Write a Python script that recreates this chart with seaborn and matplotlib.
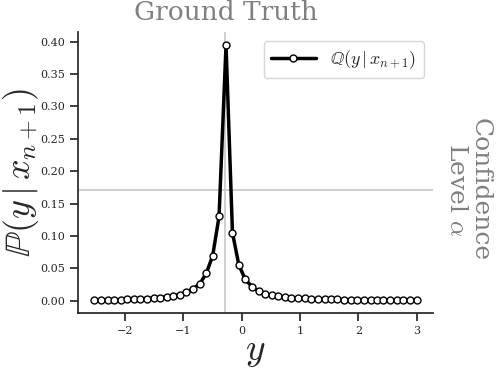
import numpy as np
import pandas as pd
import matplotlib
matplotlib.use("Agg")
import matplotlib.pyplot as plt
import matplotlib.transforms as mtransforms
import seaborn as sns

# grid of candidate y values and the predictive probabilities
y_grid = [-2.53, -2.42, -2.30, -2.19, -2.08, -1.97, -1.85, -1.74, -1.63, -1.51,
          -1.40, -1.29, -1.18, -1.06, -0.95, -0.84, -0.72, -0.61, -0.50, -0.39,
          -0.27, -0.16, -0.05, 0.06, 0.18, 0.29, 0.40, 0.51, 0.63, 0.74,
          0.85, 0.97, 1.08, 1.19, 1.30, 1.42, 1.53, 1.64, 1.75, 1.87,
          1.98, 2.09, 2.21, 2.32, 2.43, 2.54, 2.66, 2.77, 2.88, 3.00]
prob = [0.0007, 0.0008, 0.0010, 0.0012, 0.0015, 0.0018, 0.0022, 0.0027, 0.0033, 0.0040,
        0.0048, 0.0060, 0.0075, 0.0095, 0.0130, 0.0180, 0.0260, 0.0420, 0.0690, 0.1300,
        0.3950, 0.1050, 0.0550, 0.0330, 0.0210, 0.0145, 0.0105, 0.0082, 0.0066, 0.0055,
        0.0046, 0.0039, 0.0034, 0.0030, 0.0026, 0.0023, 0.0020, 0.0018, 0.0016, 0.0014,
        0.0013, 0.0012, 0.0011, 0.0010, 0.0009, 0.0008, 0.0008, 0.0007, 0.0007, 0.0006]

ground_truth = -0.28
confidence_level = 0.171

df = pd.DataFrame({"y": y_grid, "p": prob})

sns.set_theme(style="ticks")
plt.rcParams["font.family"] = ["DejaVu Serif"]
plt.rcParams["mathtext.fontset"] = "cm"

fig = plt.figure(figsize=(4.98, 3.74), dpi=100)
ax = fig.add_axes([0.157, 0.163, 0.712, 0.751])

ax.axvline(ground_truth, color="#cccccc", lw=1.3, zorder=1)
ax.axhline(confidence_level, color="#cccccc", lw=1.3, zorder=1)

sns.lineplot(data=df, x="y", y="p", ax=ax, color="black", linewidth=2.5,
             marker="o", markersize=5, markerfacecolor="white",
             markeredgecolor="black", markeredgewidth=1.0,
             label=r"$\mathbb{Q}(y\,|\,x_{n+1})$", zorder=3)

sns.despine(ax=ax)
ax.tick_params(labelsize=8)
ax.set_xlabel(r"$y$", fontsize=27, labelpad=-2)
ax.set_ylabel(r"$\mathbb{P}(y\,|\,x_{n+1})$", fontsize=26)
ax.yaxis.set_label_coords(-0.106, 0.5)
ax.set_yticks([0.0, 0.05, 0.10, 0.15, 0.20, 0.25, 0.30, 0.35, 0.40])

gray = "#808080"
trans_x = mtransforms.blended_transform_factory(ax.transData, ax.transAxes)
ax.text(ground_truth, 1.025, "Ground Truth", transform=trans_x, ha="center",
        va="bottom", fontsize=19, color=gray)
trans_y = mtransforms.blended_transform_factory(ax.transAxes, ax.transData)
ax.text(1.035, confidence_level, "Confidence\nLevel $\\alpha$", transform=trans_y,
        ha="left", va="center", rotation=270, fontsize=18, color=gray,
        linespacing=1.0, multialignment="center")

ax.legend(loc="upper right", fontsize=13, handlelength=2.5, frameon=True)

fig.savefig("out.png", dpi=100)
